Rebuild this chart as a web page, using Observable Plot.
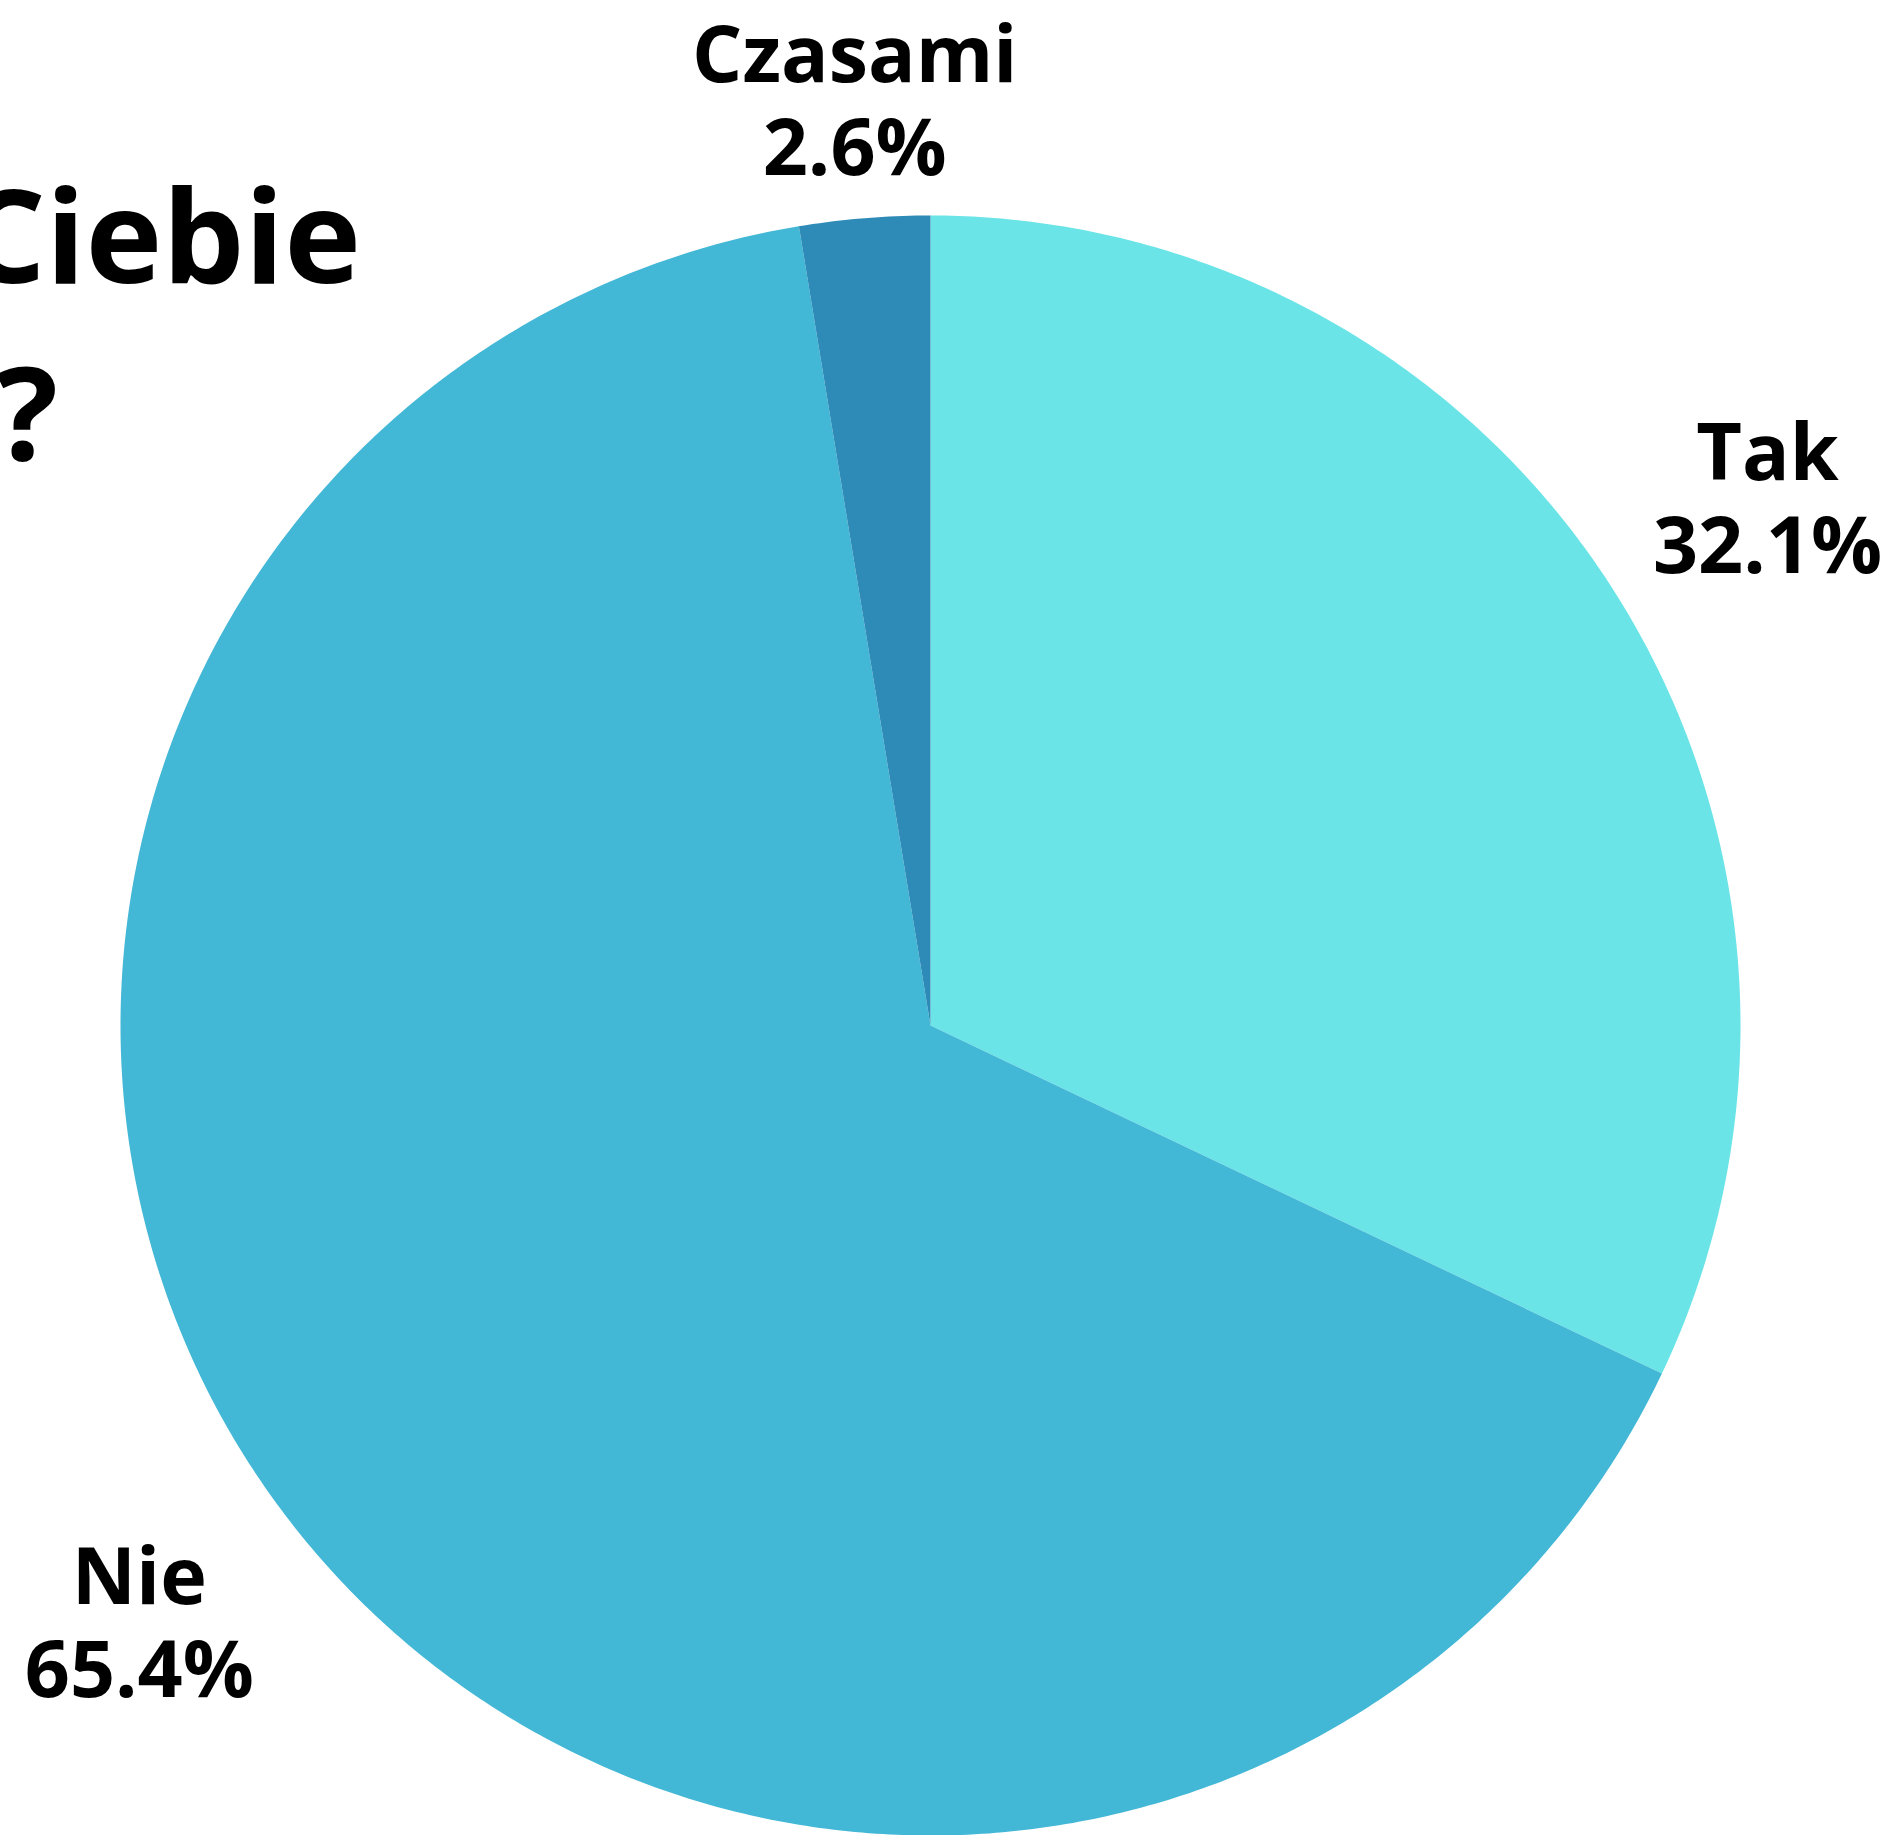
<!DOCTYPE html>
<html>
<head>
<meta charset="utf-8">
<script src="https://cdn.jsdelivr.net/npm/d3@7"></script>
<script src="https://cdn.jsdelivr.net/npm/@observablehq/plot@0.6"></script>
<style>
  html, body { margin: 0; padding: 0; background: #fff; overflow: hidden; }
  #wrap { position: relative; width: 1891px; height: 1835px; overflow: hidden; }
  .title { position: absolute; font-family: "Open Sans", sans-serif; font-weight: 700; font-size: 130px; line-height: 177px; color: #000; white-space: nowrap; }
</style>
</head>
<body>
<div id="wrap">
  <div class="title" id="t1" style="top:144px; right:1530px; text-align:right;">Ciebie</div>
  <div class="title" id="t2" style="top:321px; left:-4px;">?</div>
</div>
<script>
// ---- data ----
const categories = ["Tak", "Nie", "Czasami"];
const percents = [32.1, 65.4, 2.6];
const colors = ["#6be4e8", "#42b7d6", "#2e8bb8"];

// ---- layout constants (pixels) ----
const W = 1891, H = 1835;
const cx = 930, cy = 1025, R = 810;   // pie centre and radius
const labelR = 990;                   // radius of label centres
const fontSize = 79, lineH = 1.18;
const halfBox = fontSize * lineH + 5; // half height of a two-line label

const pie = d3.pie().sort(null).value(d => d.value);
const arcs = pie(categories.map((c, i) => ({cat: c, value: percents[i], color: colors[i]})));

// slice outlines in unit-radius coordinates (y up)
function slicePoints(a) {
  const pts = [{x: 0, y: 0}];
  const n = Math.max(4, Math.ceil((a.endAngle - a.startAngle) / (Math.PI * 2) * 720));
  for (let k = 0; k <= n; k++) {
    const t = a.startAngle + (a.endAngle - a.startAngle) * k / n;
    pts.push({x: Math.sin(t), y: Math.cos(t)});
  }
  pts.push({x: 0, y: 0});
  return pts;
}

// label positions: along the slice's mid-angle, pulled in radially to stay inside the canvas
const yMax = (cy - halfBox) / R;
const labels = arcs.map(a => {
  const m = (a.startAngle + a.endAngle) / 2;
  let r = labelR / R;
  if (Math.cos(m) * r > yMax) r = yMax / Math.cos(m);
  return {x: Math.sin(m) * r, y: Math.cos(m) * r, text: `${a.data.cat}\n${a.data.value.toFixed(1)}%`};
});

const plot = Plot.plot({
  width: W,
  height: H,
  margin: 0,
  x: {domain: [-cx / R, (W - cx) / R], axis: null},
  y: {domain: [-(H - cy) / R, cy / R], axis: null},
  marks: [
    ...arcs.map(a => Plot.line(slicePoints(a), {x: "x", y: "y", fill: a.data.color, stroke: "none", curve: "linear"})),
    Plot.text(labels, {
      x: "x", y: "y", text: "text",
      fontSize, fontWeight: 700, fontFamily: "Open Sans",
      lineHeight: lineH, textAnchor: "middle", lineAnchor: "middle", fill: "#000"
    })
  ]
});
plot.style.position = "absolute";
plot.style.left = "0";
plot.style.top = "0";
const wrap = document.getElementById("wrap");
wrap.insertBefore(plot, wrap.firstChild);
</script>
</body>
</html>
